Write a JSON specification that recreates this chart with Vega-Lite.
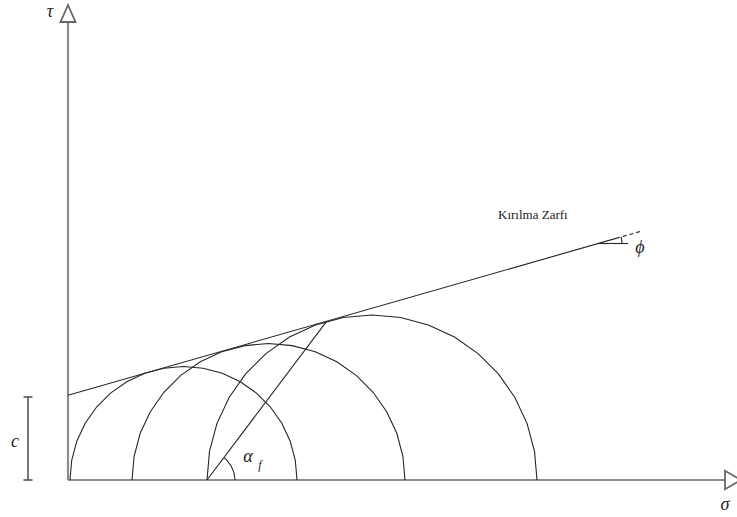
{
  "$schema": "https://vega.github.io/schema/vega-lite/v6.json",
  "width": 737,
  "height": 517,
  "autosize": {"type": "none"},
  "padding": 0,
  "background": "white",
  "config": {"view": {"stroke": null}},
  "data": {"values": [
    {"part":"axis","seg":"ya","o":0,"x":0,"y":0},
    {"part":"axis","seg":"ya","o":1,"x":0,"y":458},
    {"part":"axis","seg":"xa","o":0,"x":0,"y":0},
    {"part":"axis","seg":"xa","o":1,"x":657,"y":0},

    {"part":"ln","seg":"c1","o":0,"x":229,"y":0},
    {"part":"ln","seg":"c1","o":1,"x":227.3,"y":19.7},
    {"part":"ln","seg":"c1","o":2,"x":222.2,"y":38.8},
    {"part":"ln","seg":"c1","o":3,"x":213.8,"y":56.8},
    {"part":"ln","seg":"c1","o":4,"x":202.4,"y":73.0},
    {"part":"ln","seg":"c1","o":5,"x":188.5,"y":86.9},
    {"part":"ln","seg":"c1","o":6,"x":172.3,"y":98.3},
    {"part":"ln","seg":"c1","o":7,"x":154.3,"y":106.7},
    {"part":"ln","seg":"c1","o":8,"x":135.2,"y":111.8},
    {"part":"ln","seg":"c1","o":9,"x":115.5,"y":113.5},
    {"part":"ln","seg":"c1","o":10,"x":95.8,"y":111.8},
    {"part":"ln","seg":"c1","o":11,"x":76.7,"y":106.7},
    {"part":"ln","seg":"c1","o":12,"x":58.8,"y":98.3},
    {"part":"ln","seg":"c1","o":13,"x":42.5,"y":86.9},
    {"part":"ln","seg":"c1","o":14,"x":28.6,"y":73.0},
    {"part":"ln","seg":"c1","o":15,"x":17.2,"y":56.8},
    {"part":"ln","seg":"c1","o":16,"x":8.8,"y":38.8},
    {"part":"ln","seg":"c1","o":17,"x":3.7,"y":19.7},
    {"part":"ln","seg":"c1","o":18,"x":2,"y":0},

    {"part":"ln","seg":"c2","o":0,"x":337,"y":0},
    {"part":"ln","seg":"c2","o":1,"x":334.9,"y":23.7},
    {"part":"ln","seg":"c2","o":2,"x":328.8,"y":46.7},
    {"part":"ln","seg":"c2","o":3,"x":318.7,"y":68.3},
    {"part":"ln","seg":"c2","o":4,"x":305.1,"y":87.7},
    {"part":"ln","seg":"c2","o":5,"x":288.2,"y":104.6},
    {"part":"ln","seg":"c2","o":6,"x":268.8,"y":118.2},
    {"part":"ln","seg":"c2","o":7,"x":247.2,"y":128.3},
    {"part":"ln","seg":"c2","o":8,"x":224.2,"y":134.4},
    {"part":"ln","seg":"c2","o":9,"x":200.5,"y":136.5},
    {"part":"ln","seg":"c2","o":10,"x":176.8,"y":134.4},
    {"part":"ln","seg":"c2","o":11,"x":153.8,"y":128.3},
    {"part":"ln","seg":"c2","o":12,"x":132.3,"y":118.2},
    {"part":"ln","seg":"c2","o":13,"x":112.8,"y":104.6},
    {"part":"ln","seg":"c2","o":14,"x":95.9,"y":87.7},
    {"part":"ln","seg":"c2","o":15,"x":82.3,"y":68.3},
    {"part":"ln","seg":"c2","o":16,"x":72.2,"y":46.7},
    {"part":"ln","seg":"c2","o":17,"x":66.1,"y":23.7},
    {"part":"ln","seg":"c2","o":18,"x":64,"y":0},

    {"part":"ln","seg":"c3","o":0,"x":469,"y":0},
    {"part":"ln","seg":"c3","o":1,"x":466.5,"y":28.6},
    {"part":"ln","seg":"c3","o":2,"x":459.1,"y":56.4},
    {"part":"ln","seg":"c3","o":3,"x":446.9,"y":82.5},
    {"part":"ln","seg":"c3","o":4,"x":430.4,"y":106.1},
    {"part":"ln","seg":"c3","o":5,"x":410.1,"y":126.4},
    {"part":"ln","seg":"c3","o":6,"x":386.5,"y":142.9},
    {"part":"ln","seg":"c3","o":7,"x":360.4,"y":155.1},
    {"part":"ln","seg":"c3","o":8,"x":332.6,"y":162.5},
    {"part":"ln","seg":"c3","o":9,"x":304,"y":165},
    {"part":"ln","seg":"c3","o":10,"x":275.4,"y":162.5},
    {"part":"ln","seg":"c3","o":11,"x":247.6,"y":155.1},
    {"part":"ln","seg":"c3","o":12,"x":221.5,"y":142.9},
    {"part":"ln","seg":"c3","o":13,"x":197.9,"y":126.4},
    {"part":"ln","seg":"c3","o":14,"x":177.6,"y":106.1},
    {"part":"ln","seg":"c3","o":15,"x":161.1,"y":82.5},
    {"part":"ln","seg":"c3","o":16,"x":148.9,"y":56.4},
    {"part":"ln","seg":"c3","o":17,"x":141.5,"y":28.6},
    {"part":"ln","seg":"c3","o":18,"x":139,"y":0},

    {"part":"ln","seg":"env","o":0,"x":0,"y":84.7},
    {"part":"ln","seg":"env","o":1,"x":548,"y":241.6},
    {"part":"ln","seg":"alpha","o":0,"x":139,"y":0},
    {"part":"ln","seg":"alpha","o":1,"x":258.6,"y":158.6},
    {"part":"ln","seg":"aarc","o":0,"x":167,"y":0},
    {"part":"ln","seg":"aarc","o":1,"x":166.0,"y":7.2},
    {"part":"ln","seg":"aarc","o":2,"x":163.2,"y":14.0},
    {"part":"ln","seg":"aarc","o":3,"x":158.8,"y":19.8},
    {"part":"ln","seg":"aarc","o":4,"x":155.9,"y":22.4},
    {"part":"ln","seg":"phih","o":0,"x":530,"y":236.5},
    {"part":"ln","seg":"phih","o":1,"x":560,"y":236.5},
    {"part":"ln","seg":"phiarc","o":0,"x":554,"y":236.5},
    {"part":"ln","seg":"phiarc","o":1,"x":553.8,"y":239.8},
    {"part":"ln","seg":"phiarc","o":2,"x":553.1,"y":243.1},

    {"part":"dash","seg":"envd","o":0,"x":548,"y":241.6},
    {"part":"dash","seg":"envd","o":1,"x":572,"y":248.5},

    {"part":"br","seg":"cb","o":0,"x":-40,"y":0},
    {"part":"br","seg":"cb","o":1,"x":-40,"y":83},
    {"part":"br","seg":"cbt","o":0,"x":-44.5,"y":83},
    {"part":"br","seg":"cbt","o":1,"x":-35.5,"y":83},
    {"part":"br","seg":"cbb","o":0,"x":-44.5,"y":0},
    {"part":"br","seg":"cbb","o":1,"x":-35.5,"y":0},

    {"part":"arrowy","x":0,"y":466.5},
    {"part":"arrowx","x":665,"y":0},

    {"part":"sym","label":"τ","x":-18,"y":468},
    {"part":"sym","label":"σ","x":657,"y":-25},
    {"part":"sym","label":"c","x":-53,"y":38},
    {"part":"sym","label":"ϕ","x":572,"y":232},
    {"part":"sym","label":"α","x":180,"y":23},
    {"part":"sub","label":"f","x":192,"y":15},
    {"part":"title","label":"Kırılma Zarfı","x":430,"y":265}
  ]},
  "encoding": {
    "x": {"field": "x", "type": "quantitative", "scale": {"domain": [-68, 669], "nice": false, "zero": false}, "axis": null},
    "y": {"field": "y", "type": "quantitative", "scale": {"domain": [-37, 480], "nice": false, "zero": false}, "axis": null}
  },
  "layer": [
    {
      "transform": [{"filter": "datum.part == 'axis'"}],
      "mark": {"type": "line", "stroke": "#8c8c8c", "strokeWidth": 2.2},
      "encoding": {"detail": {"field": "seg"}, "order": {"field": "o"}}
    },
    {
      "transform": [{"filter": "datum.part == 'ln'"}],
      "mark": {"type": "line", "stroke": "#262626", "strokeWidth": 1.1},
      "encoding": {"detail": {"field": "seg"}, "order": {"field": "o"}}
    },
    {
      "transform": [{"filter": "datum.part == 'dash'"}],
      "mark": {"type": "line", "stroke": "#262626", "strokeWidth": 1.1, "strokeDash": [4, 3]},
      "encoding": {"detail": {"field": "seg"}, "order": {"field": "o"}}
    },
    {
      "transform": [{"filter": "datum.part == 'br'"}],
      "mark": {"type": "line", "stroke": "#555555", "strokeWidth": 1.6},
      "encoding": {"detail": {"field": "seg"}, "order": {"field": "o"}}
    },
    {
      "transform": [{"filter": "datum.part == 'arrowy'"}],
      "mark": {"type": "point", "shape": "M0,-1L0.88,1L-0.88,1Z", "size": 289, "filled": false, "fill": "white", "fillOpacity": 1, "stroke": "#666666", "strokeWidth": 1.8, "opacity": 1}
    },
    {
      "transform": [{"filter": "datum.part == 'arrowx'"}],
      "mark": {"type": "point", "shape": "M1,0L-1,-1.15L-1,1.15Z", "size": 256, "filled": false, "fill": "white", "fillOpacity": 1, "stroke": "#666666", "strokeWidth": 1.8, "opacity": 1}
    },
    {
      "transform": [{"filter": "datum.part == 'sym'"}],
      "mark": {"type": "text", "font": "Liberation Serif", "fontStyle": "italic", "fontSize": 18, "color": "#222222", "align": "center", "baseline": "middle"},
      "encoding": {"text": {"field": "label"}}
    },
    {
      "transform": [{"filter": "datum.part == 'sub'"}],
      "mark": {"type": "text", "font": "Liberation Serif", "fontStyle": "italic", "fontSize": 12, "color": "#222222", "align": "center", "baseline": "middle"},
      "encoding": {"text": {"field": "label"}}
    },
    {
      "transform": [{"filter": "datum.part == 'title'"}],
      "mark": {"type": "text", "font": "Liberation Serif", "fontSize": 13, "color": "#222222", "align": "left", "baseline": "middle"},
      "encoding": {"text": {"field": "label"}}
    }
  ]
}
